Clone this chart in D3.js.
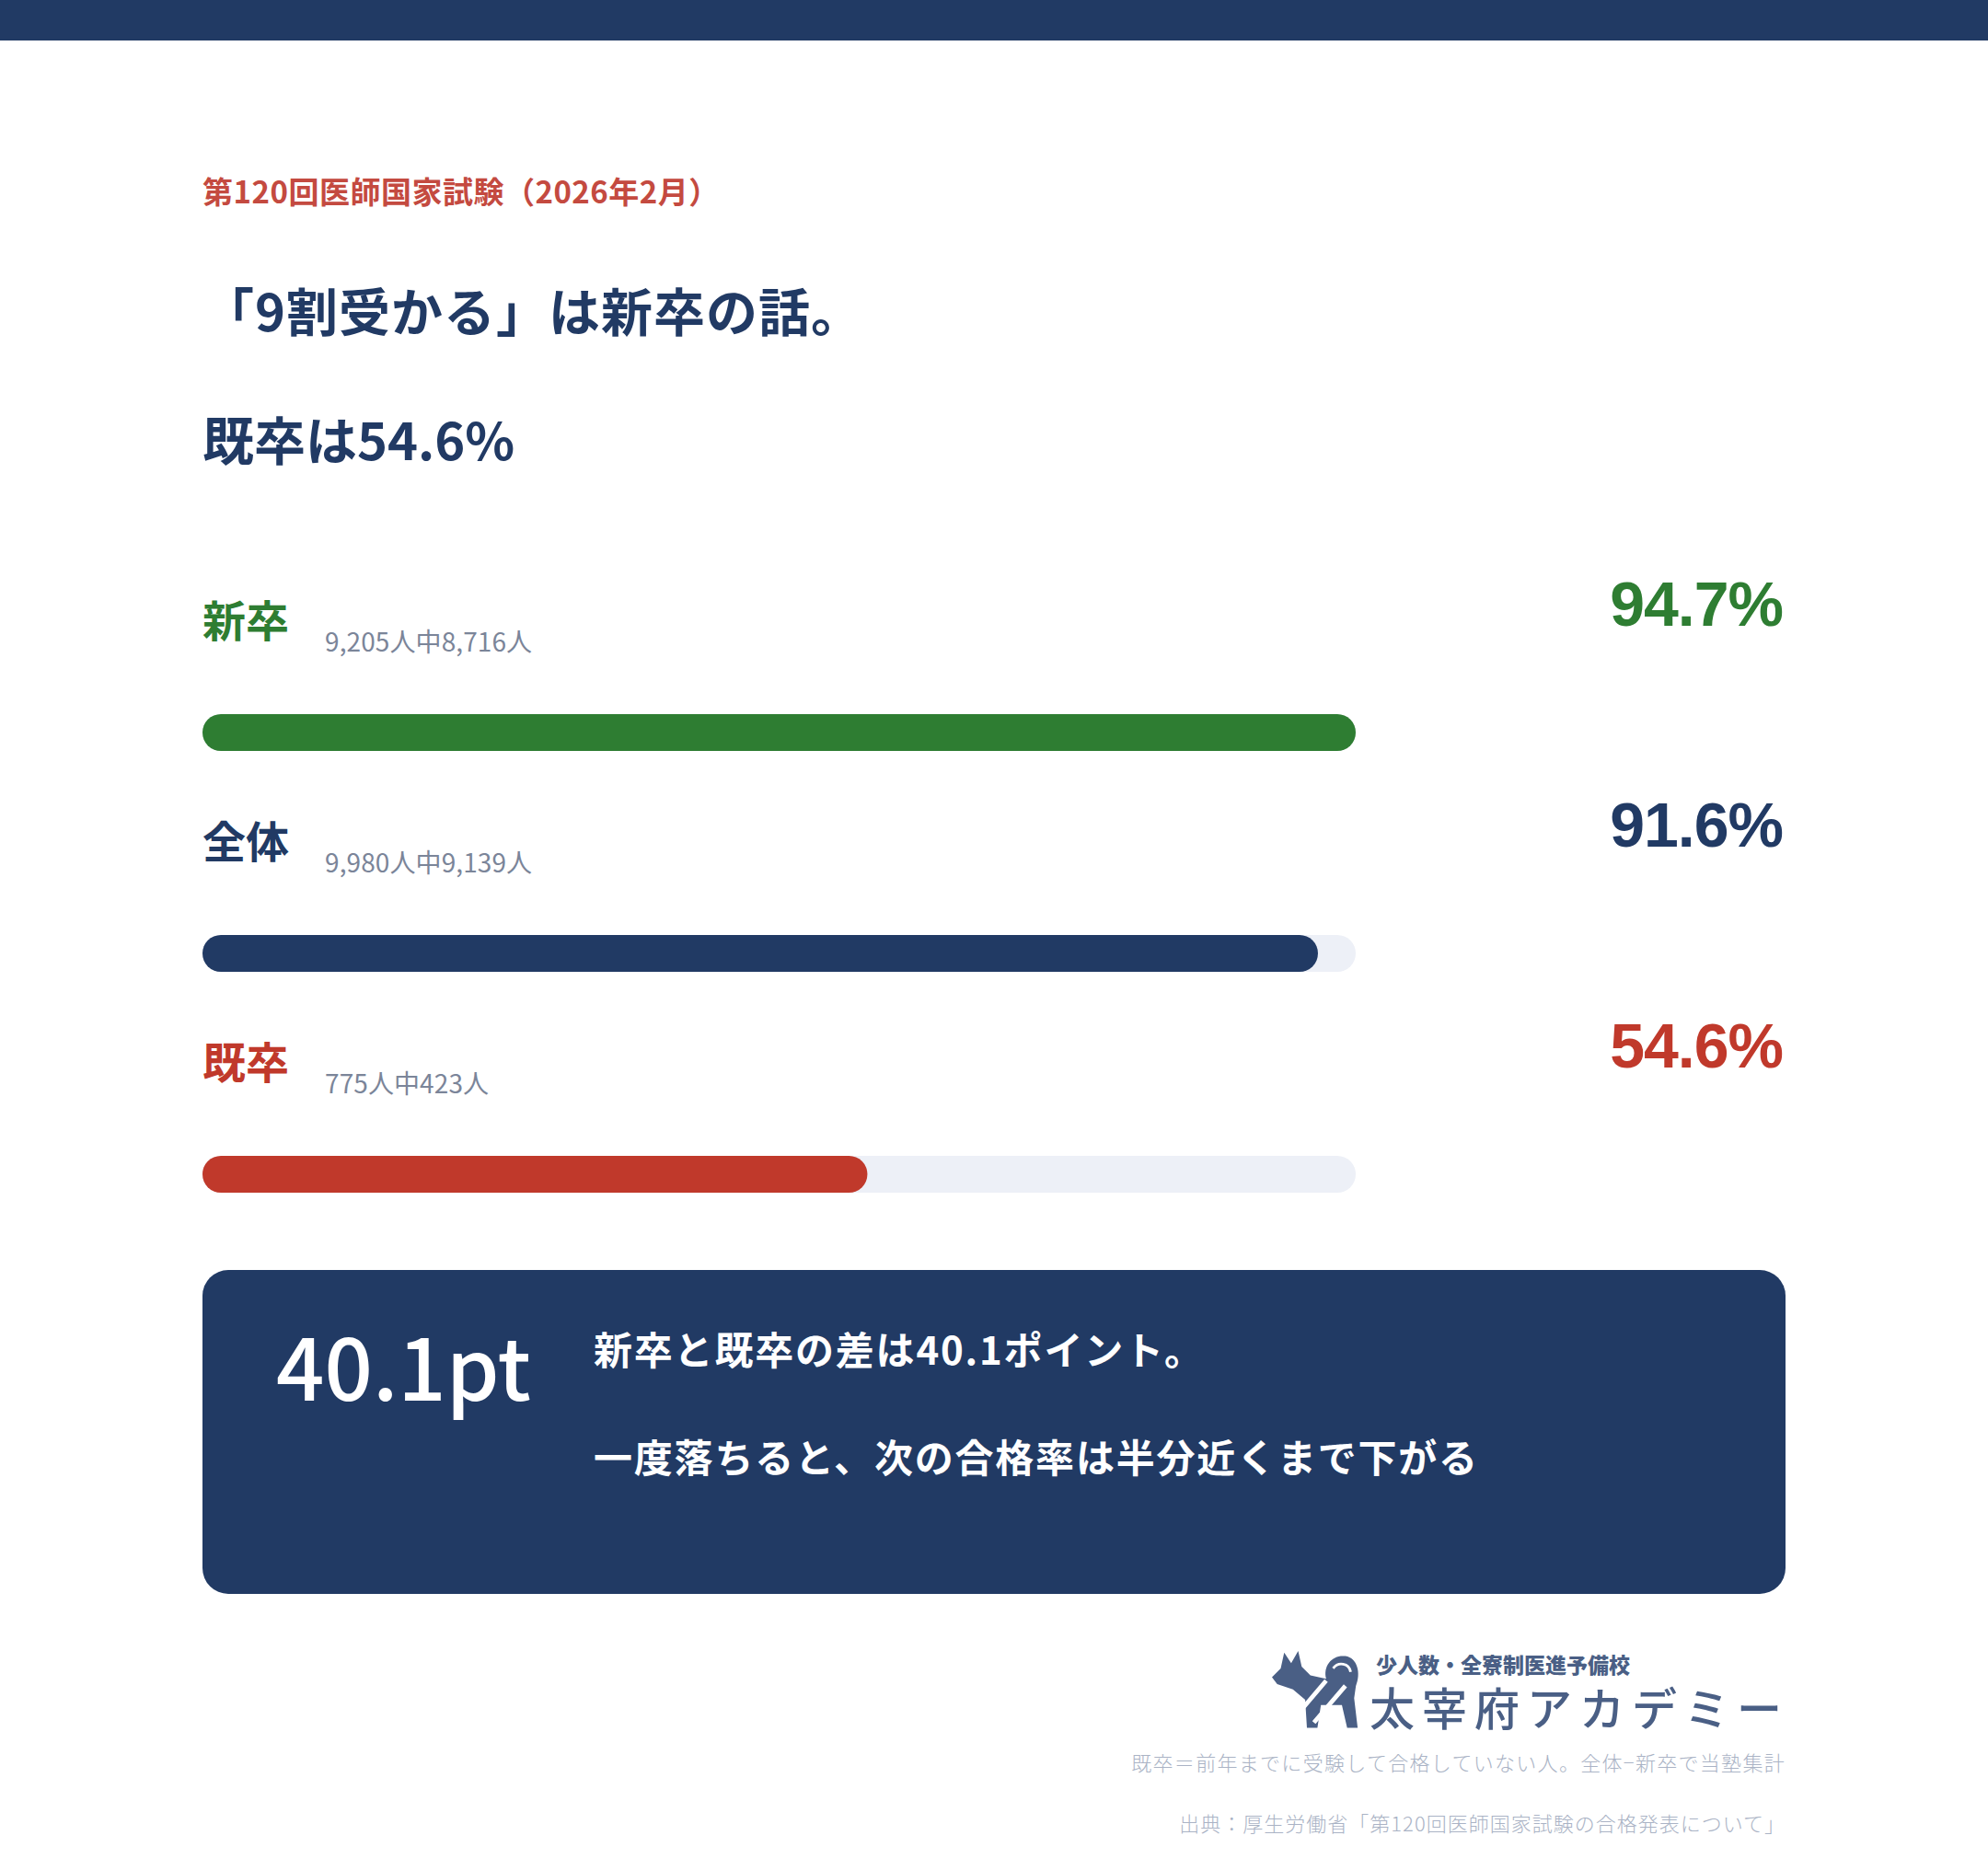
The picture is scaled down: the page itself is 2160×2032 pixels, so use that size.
<!DOCTYPE html>
<html lang="ja">
<head>
<meta charset="utf-8">
<script src="https://cdn.jsdelivr.net/npm/d3@7"></script>
<style>
  html, body { margin: 0; padding: 0; background: #ffffff; }
  svg { display: block; }
</style>
</head>
<body>
<div id="chart"></div>
<script>
// Data (第120回医師国家試験)
const CATEGORIES = ['新卒', '全体', '既卒']
const RATES = [94.7, 91.6, 54.6]
const EXAMINEES = [9205, 9980, 775]
const PASSERS = [8716, 9139, 423]

const KICKER = '第120回医師国家試験（2026年2月）'
const HEADLINE = '「9割受かる」は新卒の話。'
const SUBHEAD = '既卒は54.6%'
const NOTE_LINES = ['新卒と既卒の差は40.1ポイント。', '一度落ちると、次の合格率は半分近くまで下がる']
const FOOTNOTES = ['既卒＝前年までに受験して合格していない人。全体−新卒で当塾集計', '出典：厚生労働省「第120回医師国家試験の合格発表について」']

// Look of the page
const WIDTH = 2160
const HEIGHT = 2032
const LEFT = 220
const RIGHT = 1940
const TRACK_W = 1253
const BAR_H = 40
const NAVY = '#213a64'
const SERIES_COLORS = ['#2e7d32', '#213a64', '#c0392b']
const TRACK_COLOR = '#edf0f7'
const JP = '"Noto Sans CJK JP", "Noto Sans", sans-serif'

const svg = d3.select('#chart')
  .append('svg')
  .attr('width', WIDTH)
  .attr('height', HEIGHT)
  .attr('viewBox', `0 0 ${WIDTH} ${HEIGHT}`)

svg.append('rect').attr('width', WIDTH).attr('height', HEIGHT).attr('fill', '#fff')
svg.append('rect').attr('width', WIDTH).attr('height', 44).attr('fill', NAVY) // barra do topo

// Cabeçalho
svg.append('text')
  .attr('x', LEFT).attr('y', 221)
  .style('font-family', JP).style('font-size', '33px').style('font-weight', 700)
  .style('letter-spacing', '0.5px')
  .attr('fill', '#c44a40')
  .text(KICKER)

svg.append('text')
  .attr('x', LEFT).attr('y', 360)
  .style('font-family', JP).style('font-size', '56px').style('font-weight', 700)
  .style('letter-spacing', '1px')
  .attr('fill', NAVY)
  .text(HEADLINE)

svg.append('text')
  .attr('x', LEFT).attr('y', 500)
  .style('font-family', JP).style('font-size', '56px').style('font-weight', 700)
  .attr('fill', NAVY)
  .text(SUBHEAD)

// Escalas
const x = d3.scaleLinear()
  .domain([0, d3.max(RATES)])
  .range([0, TRACK_W])

const y = d3.scalePoint()
  .domain(CATEGORIES)
  .range([776, 1256])

const rows = CATEGORIES.map((c, i) => ({
  cat: c,
  rate: RATES[i],
  total: EXAMINEES[i],
  pass: PASSERS[i],
  color: SERIES_COLORS[i]
}))

const fmt = d3.format(',')

const g = svg.append('g')
  .selectAll('g')
  .data(rows)
  .join('g')
  .attr('transform', d => `translate(0,${y(d.cat)})`)

g.append('rect') // trilho
  .attr('x', LEFT).attr('y', 0)
  .attr('width', x.range()[1]).attr('height', BAR_H)
  .attr('rx', BAR_H / 2)
  .attr('fill', TRACK_COLOR)

g.append('rect') // barra
  .attr('x', LEFT).attr('y', 0)
  .attr('width', d => x(d.rate)).attr('height', BAR_H)
  .attr('rx', BAR_H / 2)
  .attr('fill', d => d.color)

g.append('text')
  .attr('x', LEFT).attr('y', -84)
  .style('font-family', JP).style('font-size', '47px').style('font-weight', 700)
  .attr('fill', d => d.color)
  .text(d => d.cat)

g.append('text')
  .attr('x', 353).attr('y', -68)
  .style('font-family', JP).style('font-size', '28px').style('font-weight', 400)
  .style('letter-spacing', '0.1px')
  .attr('fill', '#7b8599')
  .text(d => `${fmt(d.total)}人中${fmt(d.pass)}人`)

g.append('text')
  .attr('x', 1937).attr('y', -96)
  .attr('text-anchor', 'end')
  .style('font-family', '"Liberation Sans", Arial, sans-serif')
  .style('font-size', '68px').style('font-weight', 700)
  .style('letter-spacing', '-1px')
  .attr('fill', d => d.color)
  .text(d => d3.format('.1f')(d.rate) + '%')

// Caixa de destaque
const gap = RATES[0] - RATES[2]
const box = svg.append('g')
box.append('rect')
  .attr('x', LEFT).attr('y', 1380)
  .attr('width', RIGHT - LEFT).attr('height', 352)
  .attr('rx', 28)
  .attr('fill', NAVY)

box.append('text')
  .attr('x', 300).attr('y', 1522)
  .style('font-family', JP).style('font-size', '92px').style('font-weight', 500)
  .attr('fill', '#fff')
  .text(d3.format('.1f')(gap) + 'pt')

box.selectAll('text.note')
  .data(NOTE_LINES)
  .join('text')
  .attr('class', 'note')
  .attr('x', 645)
  .attr('y', (d, i) => 1483 + i * 117)
  .style('font-family', JP).style('font-size', '42px').style('font-weight', 700)
  .style('letter-spacing', '1.8px')
  .attr('fill', '#fff')
  .text(d => d)

// Logo
const LOGO = '#4a5f85'
const logo = svg.append('g').attr('transform', 'translate(1382,1792)')
const dog = logo.append('g').attr('transform', 'scale(0.95)')
dog.append('path')
  .attr('d', 'M0,32 L10,22 L14,4 L22,16 L30,2 L34,20 L44,30 L62,34 C58,18 70,6 84,8 C98,10 102,28 96,42 L94,56 L98,90 L86,90 L80,64 L56,64 L52,90 L40,90 L38,58 L24,46 L6,40 Z')
  .attr('fill', LOGO)
dog.append('path')
  .attr('d', 'M70,22 C76,14 88,16 90,26')
  .attr('fill', 'none').attr('stroke', '#fff').attr('stroke-width', 3)
dog.append('path')
  .attr('d', 'M28,76 L62,36 M48,84 L84,42')
  .attr('fill', 'none').attr('stroke', '#fff').attr('stroke-width', 5)

logo.append('text')
  .attr('x', 113).attr('y', 26)
  .style('font-family', JP).style('font-size', '23px').style('font-weight', 900)
  .attr('fill', LOGO)
  .text('少人数・全寮制医進予備校')

logo.append('text')
  .attr('x', 106).attr('y', 83)
  .style('font-family', JP).style('font-size', '49px').style('font-weight', 500)
  .style('letter-spacing', '8px')
  .attr('fill', LOGO)
  .text('太宰府アカデミー')

// Notas de rodapé
svg.selectAll('text.foot')
  .data(FOOTNOTES)
  .join('text')
  .attr('class', 'foot')
  .attr('x', RIGHT)
  .attr('y', (d, i) => 1924 + i * 66)
  .attr('text-anchor', 'end')
  .style('font-family', JP)
  .style('font-size', '22px')
  .style('font-weight', 300)
  .style('letter-spacing', (d, i) => i === 0 ? '1.3px' : '1px')
  .attr('fill', '#aab3c5')
  .text(d => d)
</script>
</body>
</html>
